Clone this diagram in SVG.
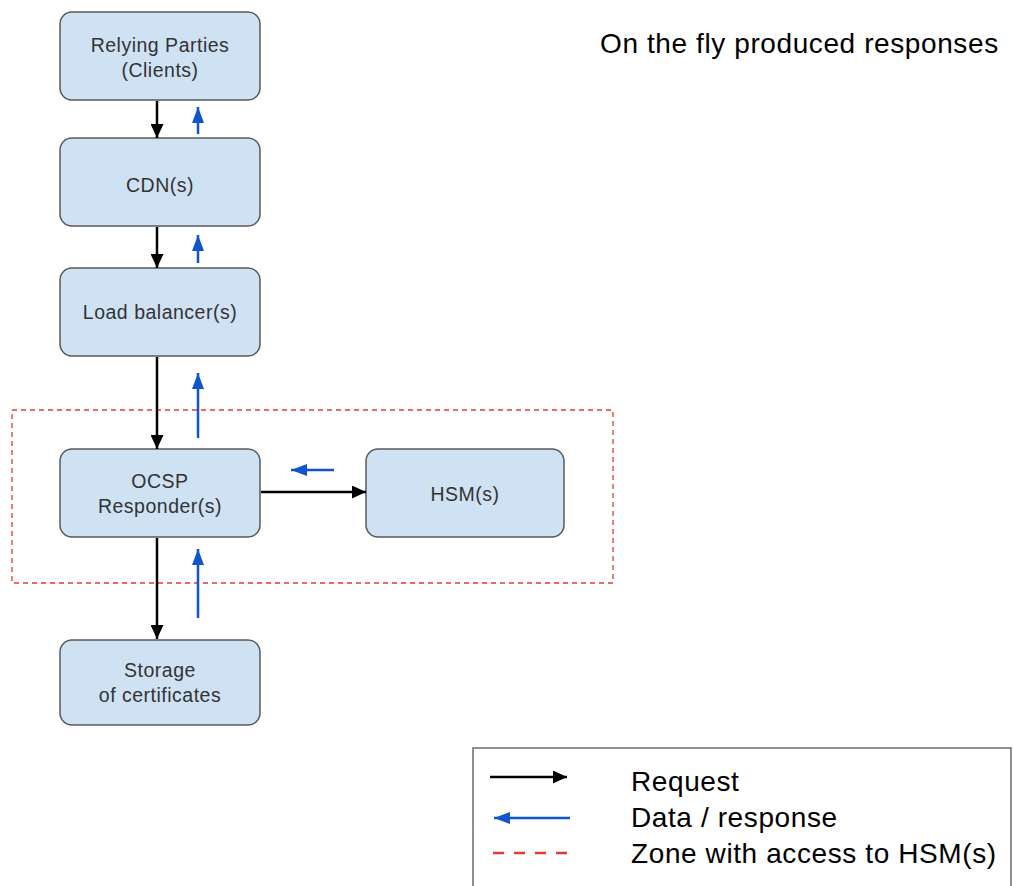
<svg xmlns="http://www.w3.org/2000/svg" width="1013" height="886" viewBox="0 0 1013 886">
<style>
.node rect{fill:#cfe2f3;stroke:#595959;stroke-width:1.5}
.node text{font-family:"Liberation Sans",Arial,sans-serif;font-size:19.5px;letter-spacing:0.5px;fill:#333;text-anchor:middle}
.req{stroke:#000;stroke-width:2.5;fill:none;marker-end:url(#ab)}
.resp{stroke:#1155cc;stroke-width:2.5;fill:none;marker-end:url(#au)}
.lg{font-family:"Liberation Sans",Arial,sans-serif;font-size:28px;letter-spacing:0.6px;fill:#000}
</style>
<defs>
<marker id="ab" viewBox="0 0 14 13" refX="14" refY="6.5" markerWidth="14" markerHeight="13" markerUnits="userSpaceOnUse" orient="auto"><path d="M0,0L14,6.5L0,13z" fill="#000"/></marker>
<marker id="au" viewBox="0 0 16 12" refX="16" refY="6" markerWidth="16" markerHeight="12" markerUnits="userSpaceOnUse" orient="auto"><path d="M0,0L16,6L0,12z" fill="#1155cc"/></marker>
</defs>
<rect width="1013" height="886" fill="#fff"/>
<text class="lg" x="600" y="53">On the fly produced responses</text>
<rect x="12" y="410" width="601" height="173" fill="none" stroke="#e53935" stroke-width="1.3" stroke-dasharray="5,4"/>
<g id="relying" class="node"><rect x="60" y="12" width="200" height="88" rx="12"/><text x="160" y="52">Relying Parties</text><text x="160" y="77">(Clients)</text></g>
<g id="cdn" class="node"><rect x="60" y="138" width="200" height="88" rx="12"/><text x="160" y="192">CDN(s)</text></g>
<g id="lb" class="node"><rect x="60" y="268" width="200" height="88" rx="12"/><text x="160" y="319">Load balancer(s)</text></g>
<g id="ocsp" class="node"><rect x="60" y="449" width="200" height="88" rx="12"/><text x="160" y="488">OCSP</text><text x="160" y="513">Responder(s)</text></g>
<g id="hsm" class="node"><rect x="366" y="449" width="198" height="88" rx="12"/><text x="465" y="501">HSM(s)</text></g>
<g id="storage" class="node"><rect x="60" y="640" width="200" height="85" rx="12"/><text x="160" y="677">Storage</text><text x="160" y="702">of certificates</text></g>
<g id="connectors">
<line class="req" x1="157" y1="101" x2="157" y2="138"/>
<line class="resp" x1="198" y1="134" x2="198" y2="107"/>
<line class="req" x1="157" y1="227" x2="157" y2="268"/>
<line class="resp" x1="198" y1="263" x2="198" y2="235"/>
<line class="req" x1="157" y1="357" x2="157" y2="449"/>
<line class="resp" x1="198" y1="438" x2="198" y2="373"/>
<line class="req" x1="261" y1="492" x2="366" y2="492"/>
<line class="resp" x1="334" y1="470" x2="291" y2="470"/>
<line class="req" x1="157" y1="538" x2="157" y2="639"/>
<line class="resp" x1="198" y1="618" x2="198" y2="549"/>
</g>
<g id="legend">
<rect x="473" y="748" width="538" height="150" fill="#fff" stroke="#555" stroke-width="1.3"/>
<line class="req" x1="490" y1="777" x2="567" y2="777"/>
<line class="resp" x1="570" y1="818" x2="494" y2="818"/>
<line x1="493" y1="853" x2="570" y2="853" stroke="#e53935" stroke-width="2.5" stroke-dasharray="11,10"/>
<text class="lg" x="631" y="791">Request</text>
<text class="lg" x="631" y="827">Data / response</text>
<text class="lg" x="631" y="863">Zone with access to HSM(s)</text>
</g>
</svg>
